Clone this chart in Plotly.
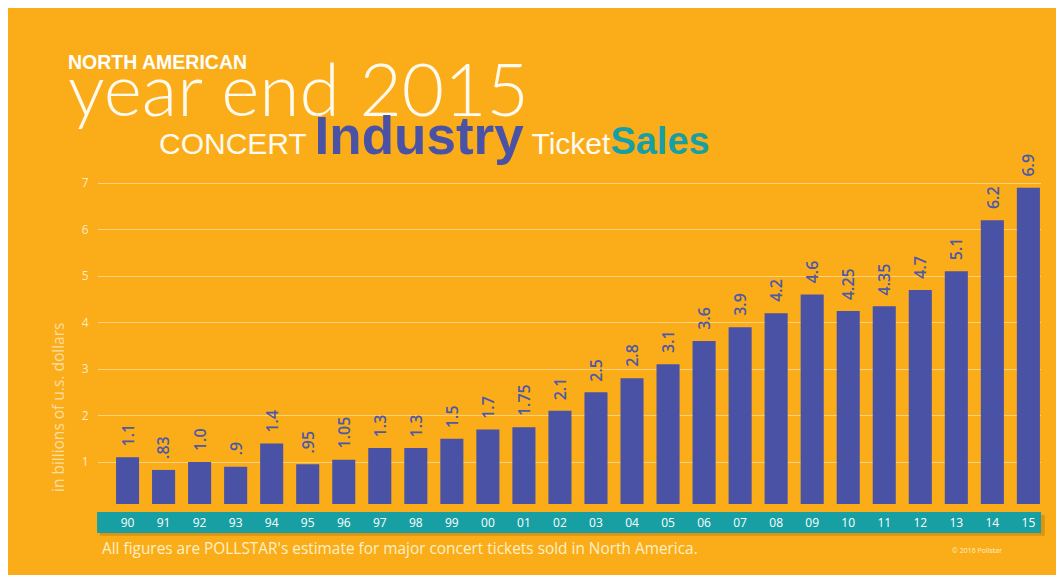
import plotly.graph_objects as go

years = ["90", "91", "92", "93", "94", "95", "96", "97", "98", "99", "00", "01", "02",
         "03", "04", "05", "06", "07", "08", "09", "10", "11", "12", "13", "14", "15"]
sales = [1.1, 0.83, 1.0, 0.9, 1.4, 0.95, 1.05, 1.3, 1.3, 1.5, 1.7, 1.75, 2.1,
         2.5, 2.8, 3.1, 3.6, 3.9, 4.2, 4.6, 4.25, 4.35, 4.7, 5.1, 6.2, 6.9]
value_labels = ["1.1", ".83", "1.0", ".9", "1.4", ".95", "1.05", "1.3", "1.3", "1.5", "1.7", "1.75", "2.1",
                "2.5", "2.8", "3.1", "3.6", "3.9", "4.2", "4.6", "4.25", "4.35", "4.7", "5.1", "6.2", "6.9"]
y_ticks = [1, 2, 3, 4, 5, 6, 7]

ORANGE = "#faad19"
BLUE = "#4a52a6"
TEAL = "#179fa3"
CREAM = "#fdf0c8"

fig = go.Figure()
fig.add_trace(go.Bar(
    x=years, y=sales,
    marker=dict(color=BLUE, line=dict(width=0)), width=0.64,
    hoverinfo="skip",
))

annotations = []
# category axis: position index i corresponds to category years[i]
for i, (v, lab) in enumerate(zip(sales, value_labels)):
    annotations.append(dict(text=lab, x=i, y=v, xref="x", yref="y", textangle=-90,
                            xanchor="center", yanchor="bottom", yshift=9, showarrow=False,
                            font=dict(family="Open Sans", size=16, color="#4d58a8", weight=600)))

paper_notes = [
    dict(text="<b>NORTH AMERICAN</b>", x=-0.0339, y=1.25, xanchor="left", yanchor="top",
         font=dict(family="Liberation Sans", size=19.5, color="white")),
    dict(text="year end 2015", x=-0.0339, y=1.0165, xanchor="left", yanchor="bottom",
         font=dict(family="Lato", size=73, color="#fffaf0", weight=300)),
    dict(text=("CONCERT <span style='font-size:53px;font-weight:bold;color:%s'>Industry</span> "
               "Ticket<span style='font-size:38px;font-weight:bold;color:%s'>Sales</span>") % (BLUE, TEAL),
         x=0.0626, y=0.926, xanchor="left", yanchor="bottom",
         font=dict(family="Liberation Sans", size=30, color="#fffaf0")),
    dict(text="in billions of u.s. dollars", x=-0.0424, y=0.2637, xanchor="center", yanchor="middle",
         textangle=-90, font=dict(family="Open Sans", size=15.5, color="rgba(255,255,255,0.6)")),
    dict(text="All figures are POLLSTAR's estimate for major concert tickets sold in North America.",
         x=0.0021, y=-0.1236, xanchor="left", yanchor="middle",
         font=dict(family="Open Sans", size=15.4, color=CREAM)),
    dict(text="© 2016 Pollstar", x=0.9035, y=-0.129, xanchor="left", yanchor="middle",
         font=dict(family="Open Sans", size=7, color=CREAM)),
]
for a in paper_notes:
    a.update(xref="paper", yref="paper", showarrow=False)
annotations += paper_notes

shapes = [
    dict(type="rect", xref="paper", yref="paper", x0=-0.12, x1=1.05, y0=-0.195, y1=1.4,
         fillcolor=ORANGE, line=dict(width=0), layer="below"),
    dict(type="rect", xref="paper", yref="paper", x0=0.002, x1=1.004, y0=-0.087, y1=-0.03,
         fillcolor="rgba(170,100,0,0.35)", line=dict(width=0), layer="below"),
    dict(type="rect", xref="paper", yref="paper", x0=-0.001, x1=1.0, y0=-0.0797, y1=-0.022,
         fillcolor=TEAL, line=dict(width=0), layer="below"),
]

fig.update_layout(
    width=1056, height=572,
    margin=dict(l=90, r=23, t=132, b=76),
    paper_bgcolor="white", plot_bgcolor="rgba(0,0,0,0)",
    showlegend=False,
    annotations=annotations, shapes=shapes,
    xaxis=dict(type="category", range=[-0.82, 25.35], showgrid=False, zeroline=False,
               showline=False, ticks="outside", ticklen=8, tickcolor="rgba(0,0,0,0)",
               tickfont=dict(family="Open Sans", size=12, color="white"), fixedrange=True),
    yaxis=dict(range=[0.097, 7.925], tickvals=y_ticks, showgrid=True,
               gridcolor="rgba(255,255,255,0.45)", gridwidth=1, zeroline=False, showline=False,
               ticks="outside", ticklen=6, tickcolor="rgba(0,0,0,0)",
               tickfont=dict(family="Open Sans", size=12, color="rgba(255,255,255,0.75)"),
               fixedrange=True),
)

fig.write_html("out.html")
